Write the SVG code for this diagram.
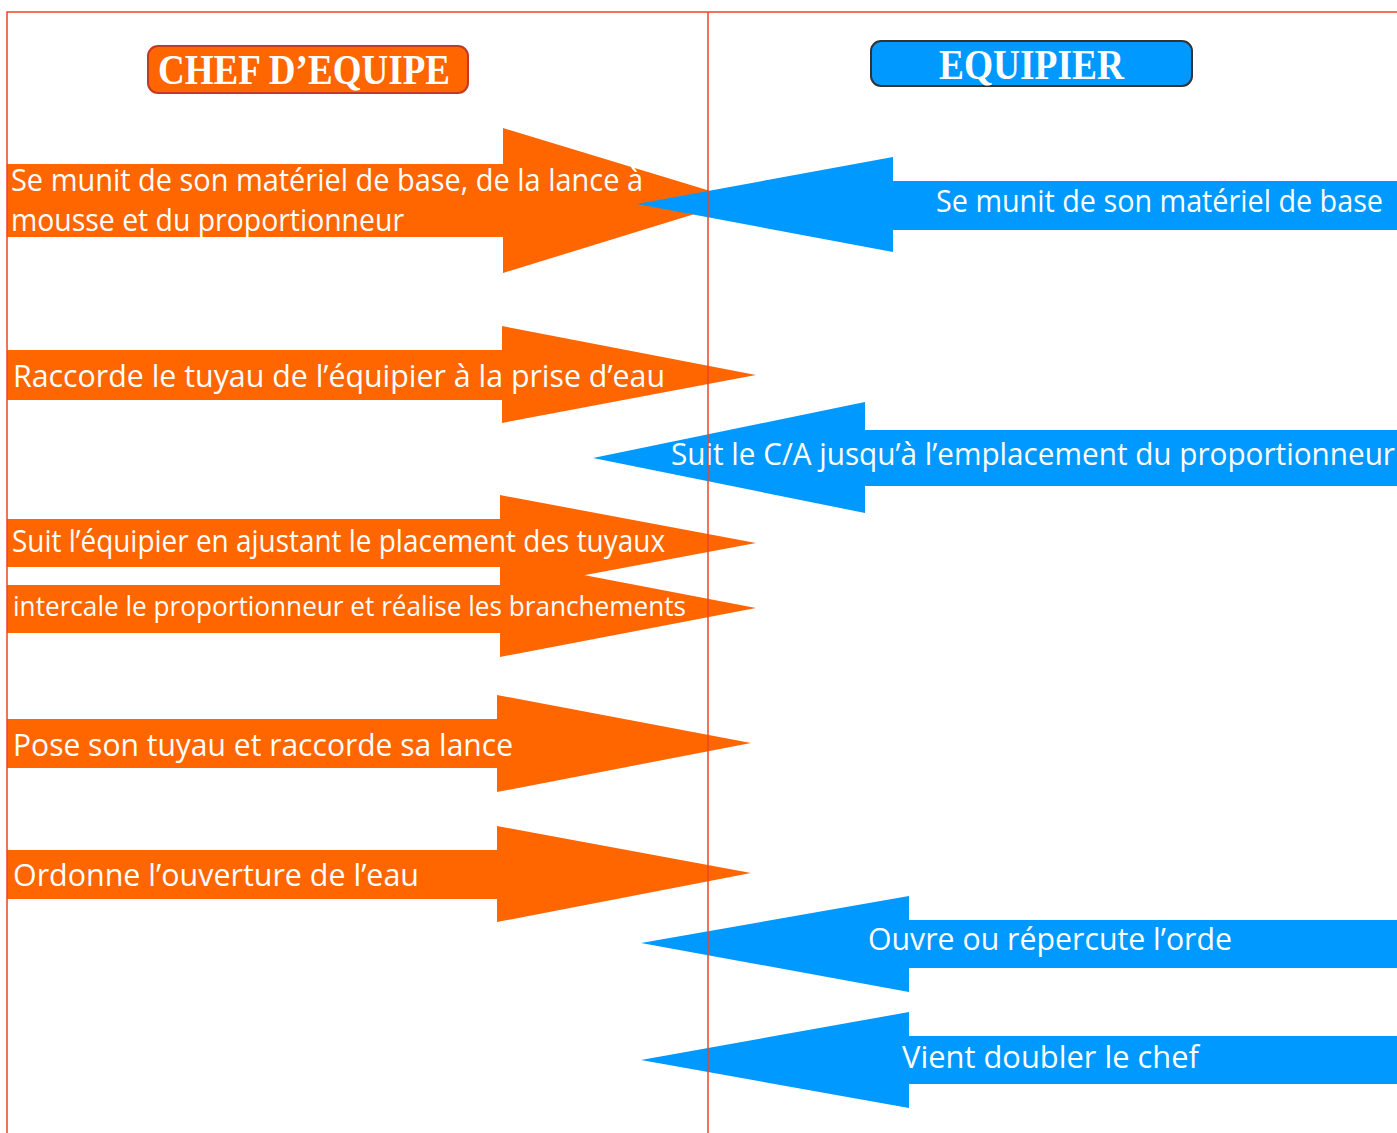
<svg xmlns="http://www.w3.org/2000/svg" width="1397" height="1133" viewBox="0 0 1397 1133">
<style>
.or{fill:#ff6600}
.bl{fill:#0099ff}
.t{fill:#ffffff;font-family:"Open Sans","Noto Sans","Liberation Sans",sans-serif;font-size:31px}
.ts{fill:#ffffff;font-family:"Open Sans","Noto Sans","Liberation Sans",sans-serif;font-size:28px}
.hd{fill:#ffffff;font-family:"Liberation Serif","DejaVu Serif",serif;font-weight:bold;font-size:43px}
.fr{stroke:#ee4422;stroke-width:1.5;fill:none}
</style>
<rect width="1397" height="1133" fill="#ffffff"/>
<g id="head-chef">
<rect x="148" y="46" width="320" height="47" rx="10" fill="#ff6600" stroke="#c0392b" stroke-width="2"/>
<text class="hd" x="158" y="84" textLength="292" lengthAdjust="spacingAndGlyphs">CHEF D’EQUIPE</text>
</g>
<g id="head-equipier">
<rect x="871" y="41" width="321" height="45" rx="10" fill="#0099ff" stroke="#333333" stroke-width="2"/>
<text class="hd" x="939" y="79" textLength="185" lengthAdjust="spacingAndGlyphs">EQUIPIER</text>
</g>
<g id="a1">
<path class="or" d="M7,164 H503 V128 L740,200 L503,273 V237 H7 Z"/>
<text class="t" x="11" y="191" textLength="632" lengthAdjust="spacingAndGlyphs">Se munit de son matériel de base, de la lance à</text>
<text class="t" x="11" y="231" textLength="393" lengthAdjust="spacingAndGlyphs">mousse et du proportionneur</text>
</g>
<g id="b1">
<path class="bl" d="M1397,181 H893 V157 L637,204 L893,252 V230 H1397 Z"/>
<text class="t" x="1383" y="212" text-anchor="end" textLength="447" lengthAdjust="spacingAndGlyphs">Se munit de son matériel de base</text>
</g>
<g id="a2">
<path class="or" d="M7,350 H502 V326 L756,375 L502,423 V400 H7 Z"/>
<text class="t" x="13" y="387" textLength="652" lengthAdjust="spacingAndGlyphs">Raccorde le tuyau de l’équipier à la prise d’eau</text>
</g>
<g id="b2">
<path class="bl" d="M1397,430 H865 V402 L593,458 L865,513 V486 H1397 Z"/>
<text class="t" x="671" y="465" textLength="724" lengthAdjust="spacingAndGlyphs">Suit le C/A jusqu’à l’emplacement du proportionneur</text>
</g>
<g id="a3">
<path class="or" d="M7,519 H500 V495 L756,543 L500,591 V567 H7 Z"/>
<text class="t" x="12" y="552" textLength="653" lengthAdjust="spacingAndGlyphs">Suit l’équipier en ajustant le placement des tuyaux</text>
</g>
<g id="a4">
<path class="or" d="M7,585 H500 V559 L756,608 L500,657 V633 H7 Z"/>
<text class="ts" x="13" y="616" textLength="673" lengthAdjust="spacingAndGlyphs">intercale le proportionneur et réalise les branchements</text>
</g>
<g id="a5">
<path class="or" d="M7,719 H497 V695 L751,743 L497,792 V768 H7 Z"/>
<text class="t" x="13" y="756" textLength="500" lengthAdjust="spacingAndGlyphs">Pose son tuyau et raccorde sa lance</text>
</g>
<g id="a6">
<path class="or" d="M7,850 H497 V826 L751,873 L497,922 V899 H7 Z"/>
<text class="t" x="13" y="886" textLength="406" lengthAdjust="spacingAndGlyphs">Ordonne l’ouverture de l’eau</text>
</g>
<g id="b3">
<path class="bl" d="M1397,920 H909 V896 L641,943 L909,992 V968 H1397 Z"/>
<text class="t" x="868" y="950" textLength="364" lengthAdjust="spacingAndGlyphs">Ouvre ou répercute l’orde</text>
</g>
<g id="b4">
<path class="bl" d="M1397,1036 H909 V1012 L641,1060 L909,1108 V1084 H1397 Z"/>
<text class="t" x="902" y="1068" textLength="297" lengthAdjust="spacingAndGlyphs">Vient doubler le chef</text>
</g>
<g id="frame">
<path class="fr" d="M7,1133 V12 H1397"/>
<path class="fr" d="M708,12 V1133"/>
</g>
</svg>
